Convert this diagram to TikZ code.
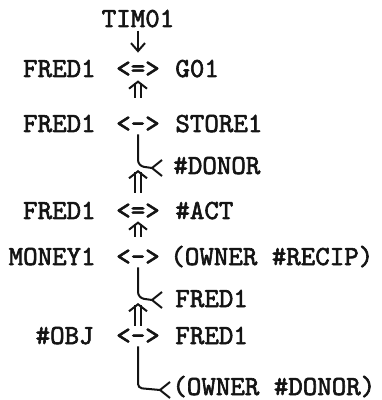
\documentclass[tikz,border=0pt]{standalone}
\usepackage{fontspec}
\newfontfamily\typer{lmmono10-regular.otf}[FakeBold=2.2]
\usetikzlibrary{arrows.meta}
\definecolor{TypeInk}{RGB}{20, 20, 20}

\begin{document}
\begin{tikzpicture}[x=0.5pt, y=-0.5pt,
    cd/.style={font=\typer\fontsize{13.8}{16}\selectfont, text=TypeInk, inner sep=0pt},
    link/.style={cd, anchor=base, text height=9pt, text depth=0pt},
    line/.style={TypeInk, line width=1pt},
    dbl/.style={TypeInk, line width=1pt, double, double distance=2.4pt, -{Straight Barb[length=3.5pt, width=9pt, line width=1pt]}}]
    \useasboundingbox (0,0) rectangle (381,400);
    % Time
    \node[cd, anchor=base] (tim) at (138,27) {TIM01};
    % Conceptualizations
    \node[cd, anchor=base east] (fredA) at (96,77) {FRED1};
    \node[link] (linkA) at (138,77) {<=>};
    \node[cd, anchor=base west] (go) at (175,77) {G01};
    \node[cd, anchor=base east] (fredB) at (96,132) {FRED1};
    \node[link] (linkB) at (138,132) {<->};
    \node[cd, anchor=base west] (store) at (175,132) {STORE1};
    \node[cd, anchor=base west] (donor) at (173,174) {\#DONOR};
    \node[cd, anchor=base east] (fredC) at (96,219) {FRED1};
    \node[link] (linkC) at (138,219) {<=>};
    \node[cd, anchor=base west] (act) at (175,219) {\#ACT};
    \node[cd, anchor=base east] (money) at (96,265) {MONEY1};
    \node[link] (linkD) at (138,265) {<->};
    \node[cd, anchor=base west] (recip) at (170,265) {(OWNER \#RECIP)};
    \node[cd, anchor=base west] (fredD) at (175,307) {FRED1};
    \node[cd, anchor=base east] (obj) at (94,344) {\#OBJ};
    \node[link] (linkE) at (138,344) {<->};
    \node[cd, anchor=base west] (fredE) at (175,344) {FRED1};
    \node[cd, anchor=base west] (owner) at (172,395) {(OWNER \#DONOR)};
    % Junctions
    \coordinate (jB) at (linkB.south |- 0,166);
    \coordinate (vB) at (152,168);
    \coordinate (jD) at (linkD.south |- 0,298);
    \coordinate (vD) at (152,300);
    \coordinate (jE) at (linkE.south |- 0,388);
    \coordinate (vE) at (160,390);
    % Time arrow
    \draw[line, -{Straight Barb[length=4pt, width=7pt]}, shorten <=1.5pt, shorten >=3pt] (tim.south) -- (linkA.north);
    % Recipient cases
    \draw[line, rounded corners=3pt, shorten <=1pt] (linkB.south) -- (jB) -- (vB);
    \draw[line, rounded corners=3pt, shorten <=1pt] (linkD.south) -- (jD) -- (vD);
    \draw[line, rounded corners=2pt, shorten <=1pt] (linkE.south) -- (jE) -- (vE);
    \foreach \v in {vB, vD, vE} {
        \draw[line] (\v) ++(10,-8) -- (\v) -- ++(10,8);
    }
    % Causals
    \draw[dbl, shorten <=8pt, shorten >=1.5pt] (linkB.north) -- (linkA.south);
    \draw[dbl, shorten <=4pt, shorten >=2pt] (linkC.north) -- (jB);
    \draw[dbl, shorten <=5pt, shorten >=1pt] (linkD.north) -- (linkC.south);
    \draw[dbl, shorten <=0pt, shorten >=2.5pt] (linkE.north) -- (jD);
\end{tikzpicture}
\end{document}
